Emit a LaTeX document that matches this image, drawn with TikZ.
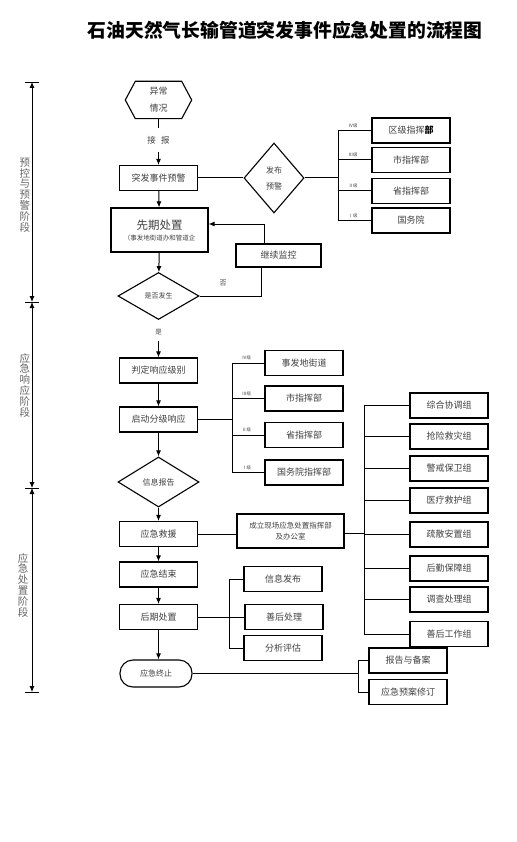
\documentclass[tikz,border=0pt]{standalone}
\usepackage{fontspec}
\setmainfont{Noto Sans CJK SC}
\usetikzlibrary{shapes.geometric,arrows.meta,positioning,calc}

\begin{document}
\begin{tikzpicture}
  [x=1pt,y=-1pt,
   every node/.style={inner sep=0,text=black!75},
   box/.style={draw=black,line width=1.1pt,minimum width=78,minimum height=25,font=\fontsize{9}{10}\selectfont},
   dia/.style={draw=black,diamond,line width=1.1pt,align=center},
   lvl/.style={font=\fontsize{4.5}{5}\selectfont},
   stage/.style={align=center,text=black!60,font=\fontsize{10.5}{10.8}\selectfont},
   link/.style={line width=1pt},
   arr/.style={line width=1pt,-{Latex[length=6pt,width=5pt]}},
   tip/.style={line width=0.8pt,{Latex[length=6pt,width=5pt]}-{Latex[length=6pt,width=5pt]}}]
  \useasboundingbox (0,0) rectangle (516,842);

  \node[text=black,font=\fontsize{18.8}{20}\selectfont\bfseries] (title) at (285,30) {石油天然气长输管道突发事件应急处置的流程图};

  \foreach \y [count=\i] in {82,302,488,692} {
    \coordinate (t\i) at (32,\y);
    \draw[line width=0.8pt] ([xshift=-7]t\i) -- ([xshift=7]t\i);
  }
  \foreach \from/\to in {t1/t2, t2/t3, t3/t4}
    \draw[tip] (\from) -- (\to);
  \node[stage] (s1) at (25,195) {预\\控\\与\\预\\警\\阶\\段};
  \node[stage] (s2) at (25,385) {应\\急\\响\\应\\阶\\段};
  \node[stage] (s3) at (23,585) {应\\急\\处\\置\\阶\\段};

  \node[minimum width=66,minimum height=37,align=center,font=\fontsize{9}{17}\selectfont] (hex) at (158.5,100) {异常\\情况};
  \draw[line width=1.1pt] (hex.west) -- ([xshift=10]hex.north west) -- ([xshift=-10]hex.north east)
    -- (hex.east) -- ([xshift=-10]hex.south east) -- ([xshift=10]hex.south west) -- cycle;
  \node[inner ysep=8pt,font=\fontsize{8.5}{9}\selectfont] (jb) at (158.5,140) {接\hspace{0.6em}报};
  \node[box] (warn) at (158.5,178) {突发事件预警};
  \node[box,minimum width=97,minimum height=44,align=center] (xq) at (159.5,230)
    {{\fontsize{11.5}{12}\selectfont 先期处置}\\[1pt]{\fontsize{6.5}{7}\selectfont （事发地街道办和管道企}};
  \node[dia,minimum width=81,minimum height=47,font=\fontsize{7}{8}\selectfont] (fs) at (158.5,296) {是否发生};
  \node[box,minimum width=85,minimum height=23] (jk) at (278.5,255.5) {继续监控};
  \node[font=\fontsize{7}{8}\selectfont] (no) at (223,283) {否};
  \node[inner ysep=6pt,font=\fontsize{6.5}{7}\selectfont] (yes) at (158.5,332) {是};
  \node[box] (pd) at (158.5,370.5) {判定响应级别};
  \node[box] (qd) at (158.5,419.5) {启动分级响应};
  \node[dia,minimum width=81,minimum height=50,font=\fontsize{8}{9}\selectfont] (xx) at (158.5,482) {信息报告};
  \node[box] (jy) at (158.5,534) {应急救援};
  \node[box] (js) at (158.5,574.5) {应急结束};
  \node[box] (hq) at (158.5,617) {后期处置};
  \node[box,minimum width=72,minimum height=27,rounded corners=13,font=\fontsize{8}{9}\selectfont] (zz) at (156,673.5) {应急终止};

  \draw[link] (hex) -- (jb);
  \draw[arr] (jb) -- (warn);
  \draw[arr] (warn) -- (xq);
  \draw[arr] (xq) -- (fs);
  \draw[link] (fs.east) -| ([xshift=-17]jk.south);
  \draw[arr] ([xshift=-14]jk.north) |- ([yshift=6]xq.east);
  \foreach \from/\to in {yes/pd, pd/qd, qd/xx, xx/jy, jy/js, js/hq}
    \draw[arr] (\from) -- (\to);
  \draw[arr] (hq) -- (hq |- zz.north);

  \node[dia,minimum width=60,minimum height=70,font=\fontsize{8}{16}\selectfont] (fb) at (274,178) {发布\\预警};
  \node[box] (q1) at (411,130.5) {区级指挥{\bfseries\color{black}部}};
  \node[box] (q2) at (411,160) {市指挥部};
  \node[box] (q3) at (411,191) {省指挥部};
  \node[box] (q4) at (411,220.5) {国务院};
  \coordinate (b1) at (338,178);
  \draw[link] (warn) -- (fb);
  \draw[link] (fb) -- (b1);
  \draw[link] (b1 |- q1) -- (b1 |- q4);
  \foreach \n/\t [count=\i] in {q1/Ⅳ级, q2/Ⅲ级, q3/Ⅱ级, q4/Ⅰ级} {
    \draw[link] (b1 |- \n) -- (\n);
    \node[lvl,above=2.5pt of {$(b1 |- \n)!0.45!(\n.west)$}] (la\i) {\t};
  }

  \node[box] (r1) at (304,363) {事发地街道};
  \node[box] (r2) at (304,398.5) {市指挥部};
  \node[box] (r3) at (304,435) {省指挥部};
  \node[box] (r4) at (304,472.5) {国务院指挥部};
  \coordinate (b2) at (232,419.5);
  \draw[link] (qd) -- (b2);
  \draw[link] (b2 |- r1) -- (b2 |- r4);
  \foreach \n/\t [count=\i] in {r1/Ⅳ级, r2/Ⅲ级, r3/Ⅱ级, r4/Ⅰ级} {
    \draw[link] (b2 |- \n) -- (\n);
    \node[lvl,above=2.5pt of {$(b2 |- \n)!0.45!(\n.west)$}] (lb\i) {\t};
  }

  \node[box,minimum width=107,minimum height=34,align=center,font=\fontsize{7.5}{11.5}\selectfont] (cl) at (290.5,531) {成立现场应急处置指挥部\\及办公室};
  \node[box] (g1) at (449,405.5) {综合协调组};
  \node[box] (g2) at (449,436.5) {抢险救灾组};
  \node[box] (g3) at (449,468.5) {警戒保卫组};
  \node[box] (g4) at (449,500.5) {医疗救护组};
  \node[box] (g5) at (449,534.5) {疏散安置组};
  \node[box] (g6) at (449,568.5) {后勤保障组};
  \node[box] (g7) at (449,599.5) {调查处理组};
  \node[box] (g8) at (449,634) {善后工作组};
  \coordinate (b3) at (364,533);
  \draw[link] (jy) -- (jy -| cl.west);
  \draw[link] (cl.east |- b3) -- (b3);
  \draw[link] (b3 |- g1) -- (b3 |- g8);
  \foreach \n in {g1,g2,g3,g4,g5,g6,g7,g8}
    \draw[link] (b3 |- \n) -- (\n);

  \node[box] (p1) at (283,579) {信息发布};
  \node[box] (p2) at (284,617) {善后处理};
  \node[box] (p3) at (283,648) {分析评估};
  \coordinate (b4) at (229,617);
  \draw[link] (hq) -- (b4);
  \draw[link] (b4 |- p1) -- (b4 |- p3);
  \foreach \n in {p1,p2,p3}
    \draw[link] (b4 |- \n) -- (\n);

  \node[box] (e1) at (408,660.5) {报告与备案};
  \node[box] (e2) at (408,692) {应急预案修订};
  \coordinate (b5) at (358,673.5);
  \draw[link] (zz) -- (b5);
  \draw[link] (b5 |- e1) -- (b5 |- e2);
  \foreach \n in {e1,e2}
    \draw[link] (b5 |- \n) -- (\n);
\end{tikzpicture}
\end{document}
